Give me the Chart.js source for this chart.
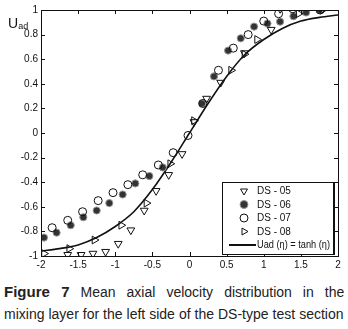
<!DOCTYPE html>
<html>
<head>
<meta charset="utf-8">
<script src="https://cdn.jsdelivr.net/npm/chart.js@4.4.1/dist/chart.umd.min.js"></script>
<style>
  html, body { margin: 0; padding: 0; background: #fff; }
  body { width: 348px; height: 329px; position: relative; overflow: hidden; font-family: "Liberation Sans", Arial, sans-serif; }
  #wrap { position: absolute; left: 0; top: 0; width: 348px; height: 272px; }
  #ylab { position: absolute; left: 8px; top: 15px; font-size: 14px; color: #111; }
  #ylab sub { font-size: 9px; vertical-align: -1px; }
  .cap { position: absolute; left: 4px; white-space: nowrap; font-size: 14px; color: #222; transform-origin: 0 0; }
  .cap b { font-size: 15px; }
</style>
</head>
<body>
<div id="wrap"><canvas id="chart"></canvas></div>
<div id="ylab">U<sub>ad</sub></div>
<div class="cap" id="cap1" style="top:283px"><b>Figure 7</b> Mean axial velocity distribution in the</div>
<div class="cap" id="cap2" style="top:306px">mixing layer for the left side of the DS-type test section</div>
<script>
// tick values
const xTicks = [-2, -1.5, -1, -0.5, 0, 0.5, 1, 1.5, 2];
const yTicks = [-1, -0.8, -0.6, -0.4, -0.2, 0, 0.2, 0.4, 0.6, 0.8, 1];

// DS-05 (down triangles)
const ds05X = [-1.64, -1.46, -1.30, -1.13, -0.96, -0.79, -0.61, -0.45, -0.28, -0.10, 0.06, 0.23, 0.42, 0.74, 1.10, 1.22];
const ds05Y = [-0.99, -0.99, -0.98, -0.965, -0.90, -0.79, -0.63, -0.47, -0.34, -0.17, 0.09, 0.28, 0.41, 0.65, 0.84, 1.01];

// DS-06 (filled circles)
const ds06X = [-1.96, -1.79, -1.60, -1.43, -1.25, -1.08, -0.90, -0.73, -0.54, -0.36, 0.17, 0.33, 0.52, 0.69, 0.87, 1.05, 1.22, 1.40, 1.57, 1.75];
const ds06Y = [-0.85, -0.81, -0.75, -0.685, -0.63, -0.57, -0.50, -0.41, -0.35, -0.28, 0.24, 0.46, 0.67, 0.77, 0.865, 0.89, 0.905, 0.95, 0.98, 1.0];

// DS-07 (open circles)
const ds07X = [-1.85, -1.64, -1.44, -1.23, -1.03, -0.83, -0.63, -0.42, -0.22, -0.02, 0.18, 0.39, 0.59, 0.79, 1.0, 1.20, 1.39, 1.76];
const ds07Y = [-0.77, -0.71, -0.64, -0.55, -0.485, -0.42, -0.34, -0.26, -0.16, -0.02, 0.24, 0.51, 0.69, 0.80, 0.91, 0.97, 1.01, 1.0];

// DS-08 (right triangles)
const ds08X = [-1.96, -1.62, -1.28, -0.92, -0.58, -0.26, 0.06, 0.56, 0.74, 0.91, 1.47, 1.79];
const ds08Y = [-0.98, -0.94, -0.87, -0.75, -0.57, -0.25, 0.10, 0.51, 0.64, 0.76, 0.97, 1.0];

// Uad(eta) = tanh(eta) curve
const etaGrid = [-2, -1.75, -1.5, -1.25, -1, -0.75, -0.5, -0.25, 0, 0.25, 0.5, 0.75, 1, 1.25, 1.5, 1.75, 2];
const curveY = [-0.96, -0.94, -0.91, -0.85, -0.76, -0.64, -0.46, -0.24, 0, 0.24, 0.46, 0.64, 0.76, 0.85, 0.91, 0.94, 0.96];

const pts = (xs, ys) => xs.map((x, i) => ({ x: x, y: ys[i] }));
const fmt = v => String(Math.round(v * 10) / 10);

const datasets = [
  {
    label: 'Uad (\u03b7) = tanh (\u03b7)',
    type: 'line',
    data: pts(etaGrid, curveY),
    borderColor: '#111',
    borderWidth: 1.6,
    pointRadius: 0,
    cubicInterpolationMode: 'monotone',
    fill: false,
    order: 5
  },
  {
    label: 'DS - 05',
    data: pts(ds05X, ds05Y),
    pointStyle: 'triangle', rotation: 180, pointRadius: 4.5,
    backgroundColor: 'rgba(0,0,0,0)', borderColor: '#111', borderWidth: 1,
    showLine: false, order: 1
  },
  {
    label: 'DS - 06',
    data: pts(ds06X, ds06Y),
    pointStyle: 'circle', pointRadius: 3.6,
    backgroundColor: '#333', borderColor: '#999', borderWidth: 1,
    showLine: false, order: 4
  },
  {
    label: 'DS - 07',
    data: pts(ds07X, ds07Y),
    pointStyle: 'circle', pointRadius: 4,
    backgroundColor: 'rgba(0,0,0,0)', borderColor: '#111', borderWidth: 1,
    showLine: false, order: 3
  },
  {
    label: 'DS - 08',
    data: pts(ds08X, ds08Y),
    pointStyle: 'triangle', rotation: 90, pointRadius: 4.5,
    backgroundColor: 'rgba(0,0,0,0)', borderColor: '#111', borderWidth: 1,
    showLine: false, order: 2
  }
];

// frame, inward ticks and boxed legend
const framePlugin = {
  id: 'frame',
  afterDraw(chart) {
    const ctx = chart.ctx;
    const a = chart.chartArea;
    const xs = chart.scales.x, ys = chart.scales.y;
    ctx.save();
    ctx.strokeStyle = '#111';
    ctx.lineWidth = 1;
    ctx.strokeRect(Math.round(a.left) + 0.5, Math.round(a.top) + 0.5, Math.round(a.right - a.left), Math.round(a.bottom - a.top));
    ctx.beginPath();
    const tl = 4;
    xTicks.forEach(v => {
      const px = Math.round(xs.getPixelForValue(v)) + 0.5;
      ctx.moveTo(px, a.bottom); ctx.lineTo(px, a.bottom - tl);
      ctx.moveTo(px, a.top); ctx.lineTo(px, a.top + tl);
    });
    yTicks.forEach(v => {
      const py = Math.round(ys.getPixelForValue(v)) + 0.5;
      ctx.moveTo(a.left, py); ctx.lineTo(a.left + tl, py);
      ctx.moveTo(a.right, py); ctx.lineTo(a.right - tl, py);
    });
    ctx.stroke();

    // legend box
    const bx = 222, by = 182, bw = 111, bh = 72;
    ctx.fillStyle = '#fff';
    ctx.fillRect(bx, by, bw, bh);
    ctx.strokeRect(bx + 0.5, by + 0.5, bw, bh);
    ctx.beginPath();
    ctx.moveTo(bx + bw + 1.5, by + 1); ctx.lineTo(bx + bw + 1.5, by + bh + 1);
    ctx.stroke();
    ctx.font = '10px "Liberation Sans", Arial, sans-serif';
    ctx.textBaseline = 'middle';
    const order = [1, 2, 3, 4, 0];
    order.forEach((di, row) => {
      const d = chart.data.datasets[di];
      const ry = by + 9 + row * 13.5;
      if (d.type === 'line') {
        ctx.strokeStyle = '#111';
        ctx.lineWidth = 2;
        ctx.beginPath();
        ctx.moveTo(bx + 7, ry); ctx.lineTo(bx + 34, ry);
        ctx.stroke();
      } else {
        ctx.fillStyle = d.backgroundColor;
        ctx.strokeStyle = d.borderColor;
        ctx.lineWidth = d.borderWidth;
        Chart.helpers.drawPoint(ctx, {
          pointStyle: d.pointStyle,
          rotation: d.rotation || 0,
          radius: 4,
          borderWidth: d.borderWidth
        }, bx + 22, ry);
      }
      ctx.fillStyle = '#111';
      const tx = bx + 35, maxW = bw - 38;
      const w = ctx.measureText(d.label).width;
      ctx.save();
      ctx.translate(tx, ry + 0.5);
      if (w > maxW) ctx.scale(maxW / w, 1);
      ctx.fillText(d.label, 0, 0);
      ctx.restore();
    });
    ctx.restore();
  }
};

new Chart('chart', {
  type: 'scatter',
  data: { datasets: datasets },
  options: {
    responsive: true,
    maintainAspectRatio: false,
    devicePixelRatio: 1,
    animation: false,
    layout: { padding: { top: 10, right: 10, left: 0, bottom: 0 } },
    plugins: { legend: { display: false }, tooltip: { enabled: false } },
    scales: {
      x: {
        type: 'linear', min: -2, max: 2,
        afterBuildTicks: s => { s.ticks = xTicks.map(v => ({ value: v })); },
        afterFit: s => { s.height = 16; },
        grid: { display: false, drawTicks: false },
        border: { display: false },
        ticks: { padding: 3, color: '#111', font: { family: '"Liberation Sans", Arial, sans-serif', size: 10 }, maxRotation: 0, autoSkip: false,
          callback: fmt }
      },
      y: {
        type: 'linear', min: -1, max: 1,
        afterBuildTicks: s => { s.ticks = yTicks.map(v => ({ value: v })); },
        afterFit: s => { s.width = 41; },
        grid: { display: false, drawTicks: false },
        border: { display: false },
        ticks: { padding: 3, color: '#111', font: { family: '"Liberation Sans", Arial, sans-serif', size: 10 }, autoSkip: false,
          callback: fmt }
      }
    }
  },
  plugins: [framePlugin]
});

// fit caption lines to the column width: widen word gaps or squeeze letters
['cap1', 'cap2'].forEach(id => {
  const el = document.getElementById(id);
  const target = 340;
  const w = el.offsetWidth;
  if (w < target) {
    const gaps = el.textContent.trim().split(/\s+/).length - 1;
    el.style.wordSpacing = ((target - w) / gaps) + 'px';
  } else {
    el.style.transform = 'scaleX(' + (target / w) + ')';
  }
});
</script>
</body>
</html>
